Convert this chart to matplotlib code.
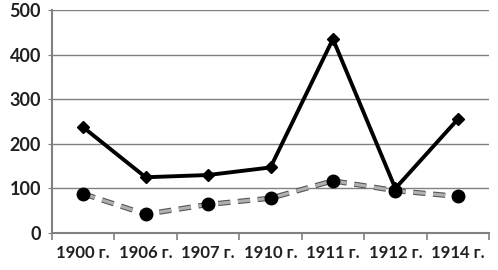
import matplotlib.pyplot as plt
import matplotlib.patheffects as pe
import numpy as np

categories = ["1900 г.", "1906 г.", "1907 г.", "1910 г.", "1911 г.", "1912 г.", "1914 г."]
series_solid = [237, 125, 130, 147, 435, 100, 255]
series_dashed = [88, 42, 64, 78, 117, 95, 82]

plt.rcParams["font.family"] = ["Lato", "DejaVu Sans"]

fig = plt.figure(figsize=(4.98, 2.70), dpi=100)
ax = fig.add_axes([52 / 498, 1 - 233 / 270, 437 / 498, 223 / 270])

x = np.arange(len(categories))
ax.plot(x, series_solid, color="black", lw=2.8, marker="D", ms=6, zorder=3)
ax.plot(x, series_dashed, color="#b0b0b0", lw=2.2, ls=(0, (4, 2.5)), zorder=3,
        path_effects=[pe.Stroke(linewidth=3.8, foreground="#555555"), pe.Normal()])
ax.plot(x, series_dashed, ls="none", marker="o", ms=9, mfc="black", mec="black", zorder=4)

ax.set_xlim(-0.5, len(categories) - 0.5)
ax.set_ylim(0, 500)
ax.set_yticks(range(0, 501, 100))
ax.yaxis.grid(True, color="#808080", lw=1)
ax.set_axisbelow(True)

ax.set_xticks(x)
ax.set_xticklabels(categories, fontsize=12, fontweight="bold", color="#202020")
ax.set_xticks(np.arange(-0.5, len(categories)), minor=True)
ax.tick_params(axis="x", which="major", length=0, pad=9)
ax.tick_params(axis="x", which="minor", length=5, color="#808080", width=1.2)
ax.tick_params(axis="y", length=3, color="#808080", labelsize=13, labelcolor="#202020", pad=5)
for lab in ax.get_yticklabels():
    lab.set_fontweight("bold")

for s in ["top", "right"]:
    ax.spines[s].set_visible(False)
for s in ["left", "bottom"]:
    ax.spines[s].set_color("#808080")
    ax.spines[s].set_linewidth(1.5)

fig.savefig("out.png", dpi=100)
